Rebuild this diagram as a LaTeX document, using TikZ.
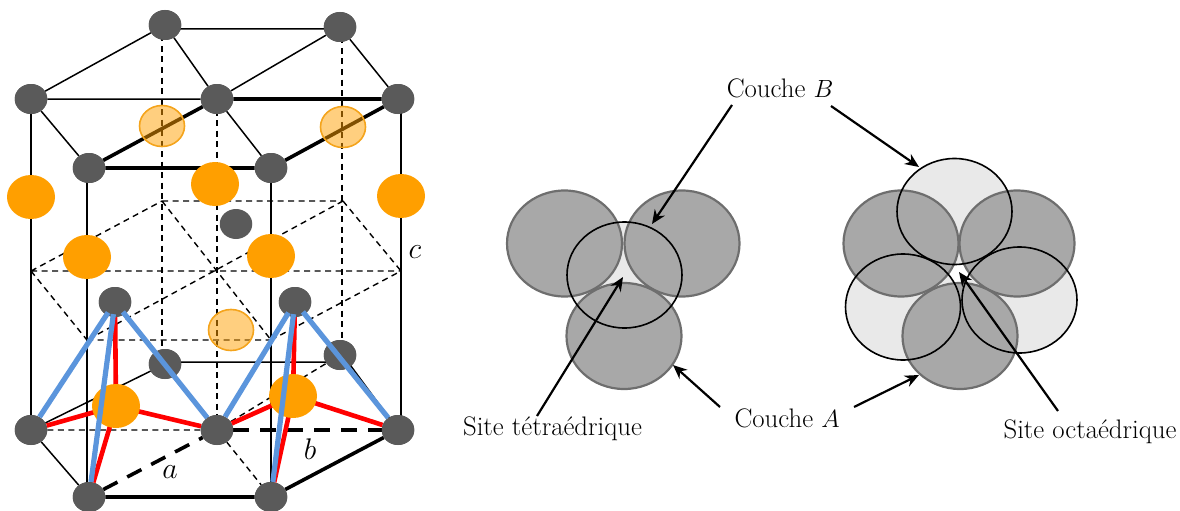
\documentclass[tikz,border=0pt]{standalone}
\usetikzlibrary{arrows.meta,shapes.geometric}
\definecolor{atomgray}{HTML}{5A5A5A}
\definecolor{atomorange}{HTML}{FF9F00}
\definecolor{edgeorange}{HTML}{F4A41C}
\definecolor{bondblue}{HTML}{5B95DC}
\definecolor{bondred}{HTML}{FF0000}
\definecolor{layerA}{HTML}{A8A8A8}
\definecolor{layerAedge}{HTML}{6E6E6E}
\definecolor{layerB}{HTML}{E9E9E9}
\tikzset{
  atom/.style={ellipse,fill=atomgray,inner sep=0pt,minimum width=32.5pt,minimum height=30pt},
  orangeatom/.style={ellipse,fill=atomorange,inner sep=0pt,minimum width=48pt,minimum height=44pt},
  ghostatom/.style={ellipse,fill=atomorange,fill opacity=.5,draw=edgeorange,line width=1.6pt,inner sep=0pt,minimum width=45pt,minimum height=41pt},
  solidbond/.style={draw=black,line width=1.5pt},
  boldbond/.style={draw=black,line width=3.6pt},
  thindash/.style={draw=black,line width=1.4pt,dash pattern=on 6pt off 4.5pt},
  bolddash/.style={draw=black,line width=3.6pt,dash pattern=on 16pt off 11pt},
  redbond/.style={draw=bondred,line width=4.6pt},
  bluebond/.style={draw=bondblue,line width=5.2pt},
  layerone/.style={ellipse,draw=layerAedge,fill=layerA,line width=2.2pt,inner sep=0pt,minimum width=115pt,minimum height=106pt},
  layertwofill/.style={ellipse,fill=layerB,inner sep=0pt,minimum width=115pt,minimum height=106pt},
  layertwoline/.style={ellipse,draw=black,line width=1.6pt,inner sep=0pt,minimum width=115pt,minimum height=106pt},
  callout/.style={-{Stealth[length=14pt,width=12pt]},line width=2.2pt,draw=black},
  lab/.style={inner sep=0pt,font=\fontsize{26.8}{32}\selectfont},
  axis/.style={inner sep=0pt,scale=1.2,font=\fontsize{24.88}{30}\selectfont}
}
\begin{document}
\begin{tikzpicture}[x=1pt,y=-1pt]
\useasboundingbox (0,0) rectangle (1180,511);
\coordinate (va) at (31,99); \coordinate (vb) at (31,430);
\coordinate (vc) at (87,168); \coordinate (vd) at (87,497);
\coordinate (ve) at (271,168); \coordinate (vf) at (271,497);
\coordinate (vg) at (401,99); \coordinate (vh) at (401,430);
\coordinate (da) at (162,25); \coordinate (db) at (162,364);
\coordinate (dc) at (342,27); \coordinate (dd) at (342,355);
\coordinate (de) at (217,99); \coordinate (df) at (217,430);
\coordinate (ma) at (31,271); \coordinate (mb) at (401,271);
\coordinate (mc) at (87,340); \coordinate (md) at (271,340);
\coordinate (me) at (162,201); \coordinate (mf) at (343,201);
\coordinate (ta) at (178,29); \coordinate (tb) at (328,29);
\coordinate (ba) at (178,362); \coordinate (bb) at (328,362);
\coordinate (bc) at (348,362); \coordinate (bd) at (398,430);
\path
  node[atom] (T1) at (165,25) {} node[atom] (T2) at (340,27) {}
  node[atom] (T3) at (31,99) {} node[atom] (T4) at (217,99) {} node[atom] (T5) at (398,99) {}
  node[atom] (T6) at (89,168) {} node[atom] (T7) at (271,168) {}
  node[atom] (B1) at (165,364) {} node[atom] (B2) at (340,355) {}
  node[atom] (B3) at (31,430) {} node[atom] (B4) at (217,430) {} node[atom] (B5) at (398,430) {}
  node[atom] (B6) at (89,497) {} node[atom] (B7) at (271,497) {}
  node[atom] (M) at (236,224) {}
  node[atom] (P1) at (115,302) {} node[atom] (P2) at (295,302) {};
% bonds behind
\draw[solidbond] (ta)--(tb) (T1)--(T3) (T1)--(T4) (T2)--(T4) (T2)--(T5) (T3)--(T4) (T3)--(T6) (T4)--(T7);
\draw[boldbond] (T4)--(T5) (T6)--(T7) (T6)--(T4) (T7)--(T5);
\draw[solidbond] (va)--(vb) (vc)--(vd) (ve)--(vf) (vg)--(vh);
\draw[solidbond] (ba)--(bb) (B1)--(B3) (bc)--(bd) (B3)--(B6);
\draw[boldbond] (B6)--(B7) (B7)--(B5);
\draw[thindash] (da)--(db) (dc)--(dd) (de)--(df);
\draw[thindash] (me)--(mf) (ma)--(mb) (mc)--(md) (ma)--(me) (mf)--(mb) (ma)--(mc) (md)--(mb) (me)--(md) (mf)--(mc);
\draw[thindash] (B3)--(B4) (B4)--(B7) (B4)--(B1) (B4)--(B2);
\draw[bolddash] (B4)--(B5);
\draw[bolddash] (B6)--(B4);
% atoms above the bonds
\path
  node[atom] at (T1) {} node[atom] at (T2) {} node[atom] at (T3) {} node[atom] at (T4) {}
  node[atom] at (T5) {} node[atom] at (T6) {} node[atom] at (T7) {}
  node[atom] at (B1) {} node[atom] at (B2) {} node[atom] at (B3) {} node[atom] at (B4) {}
  node[atom] at (B5) {} node[atom] at (B6) {} node[atom] at (B7) {}
  node[atom] at (P1) {} node[atom] at (P2) {};
% orange sites
\path
  node[orangeatom] (O1) at (31,197) {} node[orangeatom] (O2) at (401,196) {}
  node[orangeatom] (O3) at (87,257) {} node[orangeatom] (O4) at (271,256) {}
  node[orangeatom] (O5) at (215,184) {};
\draw[redbond] (P1)--(116,406) coordinate (r1);
\draw[redbond] (P2)--(293,396) coordinate (r2);
\draw[redbond] (r1)--(B3) (r1)--(B4) (r1)--(B6) (r2)--(B4) (r2)--(B5) (r2)--(B7);
\path node[orangeatom] (O6) at (r1) {} node[orangeatom] (O7) at (r2) {};
\draw[bluebond,shorten <=-3pt] (P1)--(B3);
\draw[bluebond,shorten <=-3pt] (P1)--(B6);
\draw[bluebond,shorten <=-3pt] (P1)--(B4);
\draw[bluebond,shorten <=-3pt] (P2)--(B4);
\draw[bluebond,shorten <=-3pt] (P2)--(B7);
\draw[bluebond,shorten <=-3pt] (P2)--(B5);
\path
  node[ghostatom] (G1) at (162,126) {} node[ghostatom] (G2) at (343,127) {}
  node[ghostatom] (G3) at (231,330) {};
\node[axis] (la) at (170,472) {$a$};
\node[axis] (lb) at (310,449) {$b$};
\node[axis] (lc) at (415,252) {$c$};
% layers, left
\path
  node[layertwofill] at (624.5,275) {}
  node[layerone] (A1) at (564.5,243.5) {} node[layerone] (A2) at (682,243.5) {}
  node[layerone] (A3) at (624,336) {}
  node[layertwoline] (C1) at (624.5,275) {};
% layers, right
\path
  node[layertwofill] at (954.5,211.5) {} node[layertwofill] at (903,307) {} node[layertwofill] at (1019.5,300) {}
  node[layerone] (A4) at (901,243.5) {} node[layerone] (A5) at (1017,243.5) {}
  node[layerone] (A6) at (960,336) {}
  node[layertwoline] (C2) at (954.5,211.5) {} node[layertwoline] (C3) at (903,307) {}
  node[layertwoline] (C4) at (1019.5,300) {};
% labels
\node[lab] (cB) at (780,88) {Couche $B$};
\node[lab] (cA) at (787,418) {Couche $A$};
\node[lab] (st) at (552.5,429) {Site tétraédrique};
\node[lab] (so) at (1090,432) {Site octaédrique};
% callouts
\coordinate (a1) at (732,105); \coordinate (a2) at (652,224);
\coordinate (a3) at (831,106); \coordinate (a4) at (919,167);
\coordinate (a5) at (537,416); \coordinate (a6) at (623,277);
\coordinate (a7) at (720,407); \coordinate (a8) at (673,365);
\coordinate (a9) at (854,407); \coordinate (a10) at (919,375);
\coordinate (a11) at (1058,411); \coordinate (a12) at (959,272);
\draw[callout] (a1)--(a2);
\draw[callout] (a3)--(a4);
\draw[callout] (a5)--(a6);
\draw[callout] (a7)--(a8);
\draw[callout] (a9)--(a10);
\draw[callout] (a11)--(a12);
\end{tikzpicture}
\end{document}
